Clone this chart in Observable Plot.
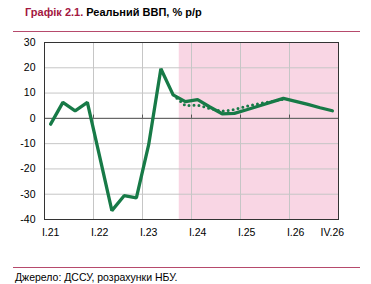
<!DOCTYPE html>
<html><head><meta charset="utf-8">
<script src="https://cdn.jsdelivr.net/npm/d3@7"></script>
<script src="https://cdn.jsdelivr.net/npm/@observablehq/plot@0.6"></script>
<style>
body{margin:0;width:371px;height:284px;position:relative;background:#fff;font-family:"Liberation Sans",Arial,sans-serif;overflow:hidden}
#title{position:absolute;left:25px;top:6px;font-size:11px;font-weight:bold;color:#000;white-space:nowrap}
#title .num{color:#a3173f}
.rule{position:absolute;left:13px;width:347px;height:1px;background:#b64a6c}
#chart{position:absolute;left:0;top:32px}
#src{position:absolute;left:15px;top:271px;font-size:10.5px;color:#000;white-space:nowrap}
</style></head><body>
<div id="title"><span class="num">Графік 2.1.</span> Реальний ВВП, % р/р</div>
<div class="rule" style="top:31px"></div>
<div id="chart"></div>
<div class="rule" style="top:267px"></div>
<div id="src">Джерело: ДССУ, розрахунки НБУ.</div>
<script>
const quarters = ["I.21","II.21","III.21","IV.21","I.22","II.22","III.22","IV.22","I.23","II.23","III.23","IV.23",
                  "I.24","II.24","III.24","IV.24","I.25","II.25","III.25","IV.25","I.26","II.26","III.26","IV.26"];
const gdp = [-2.3, 6.3, 3.0, 6.3, -15.0, -36.5, -30.6, -31.4, -10.5, 19.6, 9.3, 6.6,
             7.4, 4.5, 1.8, 2.0, 3.4, 4.9, 6.4, 7.9, 6.7, 5.5, 4.2, 3.0];
const prevQuarters = ["III.23","IV.23","I.24","II.24","III.24","IV.24","I.25","II.25","III.25","IV.25"];
const prevForecast = [9.3, 5.0, 5.2, 3.9, 2.8, 3.5, 4.8, 5.8, 6.6, 7.6];
const forecastStart = "IV.23";
const yTicks = [-40, -30, -20, -10, 0, 10, 20, 30];
const xTickLabels = ["I.21","I.22","I.23","I.24","I.25","I.26","IV.26"];

const idx = q => quarters.indexOf(q);
const main = quarters.map((q, i) => ({q, v: gdp[i]}));
const prev = prevQuarters.map((q, k) => ({q, v: prevForecast[k]}));
const yearStarts = quarters.filter((q, i) => q.startsWith("I.") && i > 0);
const green = "#177a47";

const chart = Plot.plot({
  width: 371, height: 212,
  marginLeft: 44, marginRight: 33, marginTop: 10, marginBottom: 25,
  style: {fontFamily: "'Liberation Sans', Arial, sans-serif", fontSize: "10.5px", color: "#000", background: "transparent"},
  x: {type: "linear", domain: [0, quarters.length], ticks: xTickLabels.map(q => idx(q) + 0.5),
      tickFormat: t => quarters[Math.floor(t)], tickSize: 0, tickPadding: 9, label: null},
  y: {domain: [yTicks[0], yTicks[yTicks.length - 1]], ticks: yTicks, tickFormat: d => String(d),
      tickSize: 0, tickPadding: 9, label: null},
  marks: [
    Plot.rect([forecastStart], {x1: d => idx(d), x2: quarters.length, y1: yTicks[0], y2: yTicks[yTicks.length - 1], fill: "#f9d6e4"}),
    Plot.ruleY(yTicks, {stroke: "#c6c6c6"}),
    Plot.ruleX(yearStarts, {x: d => idx(d), stroke: "#c6c6c6"}),
    Plot.ruleY([0], {stroke: "#555"}),
    Plot.ruleX(yearStarts, {x: d => idx(d), y1: 0, y2: 1.3, stroke: "#555"}),
    Plot.frame({stroke: "#333"}),
    Plot.line(prev, {x: d => idx(d.q) + 0.5, y: "v", stroke: green, strokeWidth: 3, strokeDasharray: "0,5", strokeLinecap: "round"}),
    Plot.line(main, {x: d => idx(d.q) + 0.5, y: "v", stroke: green, strokeWidth: 3.3, strokeLinejoin: "miter"})
  ]
});
document.getElementById("chart").appendChild(chart);
</script>
</body></html>
